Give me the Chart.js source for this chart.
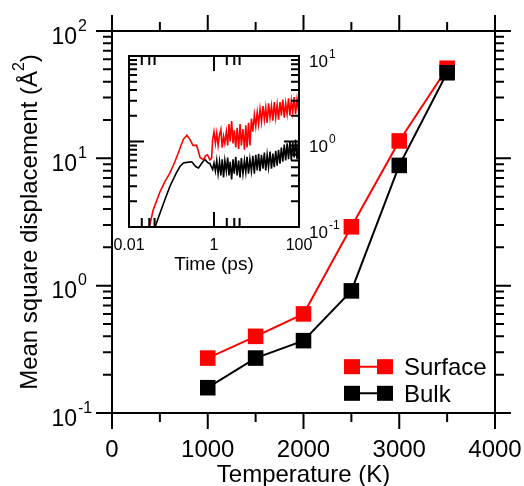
<!DOCTYPE html>
<html>
<head>
<meta charset="utf-8">
<title>Mean square displacement</title>
<script src="https://cdn.jsdelivr.net/npm/chart.js@4.4.1/dist/chart.umd.min.js"></script>
<style>
  body { margin: 0; background: #fff; }
  .wrap { position: relative; width: 524px; height: 486px; }
  .wrap canvas { position: absolute; left: 0; top: 0; }
  #insetChart { pointer-events: none; }
</style>
</head>
<body>
<div class="wrap">
  <canvas id="mainChart" width="524" height="486"></canvas>
  <canvas id="insetChart" width="524" height="486"></canvas>
</div>
<script>
// main panel
const temperature = [1000, 1500, 2000, 2500, 3000, 3500];
const surfaceMsd = [0.27, 0.40, 0.60, 2.9, 13.7, 51];
const bulkMsd = [0.158, 0.27, 0.37, 0.91, 8.8, 47];
const tempTicks = [0, 1000, 2000, 3000, 4000];
const msdExponents = [-1, 0, 1, 2];

// inset: msd vs time, start of the curves
const surfTimeStart = [0.028, 0.037, 0.054, 0.07, 0.092, 0.12, 0.145, 0.19, 0.23, 0.27, 0.32, 0.39, 0.43, 0.47, 0.56, 0.63, 0.7, 0.8, 0.88];
const surfMsdStart = [0.085, 0.158, 0.26, 0.34, 0.43, 0.58, 0.74, 1.06, 1.18, 1.06, 0.9, 0.9, 0.77, 0.65, 0.61, 0.68, 0.7, 0.61, 0.64];
const bulkTimeStart = [0.037, 0.041, 0.065, 0.092, 0.13, 0.158, 0.19, 0.23, 0.3, 0.37, 0.43, 0.52, 0.61, 0.7, 0.8];
const bulkMsdStart = [0.085, 0.1, 0.19, 0.30, 0.43, 0.51, 0.56, 0.57, 0.58, 0.51, 0.49, 0.56, 0.62, 0.57, 0.55];

// inset: the noisy part after ~1 ps
const noiseTime = [0.93, 1.0, 1.08, 1.16, 1.25, 1.35, 1.45, 1.56, 1.68, 1.8, 1.95, 2.1, 2.25, 2.4, 2.6, 2.8, 3.0,
  3.25, 3.5, 3.8, 4.1, 4.4, 4.8, 5.2, 5.6, 6.0, 6.5, 7.0, 7.6, 8.2, 8.9, 9.6, 10.4, 11.2, 12.1, 13.1, 14.2,
  15.3, 16.5, 17.8, 19.2, 20.8, 22.5, 24.3, 26.2, 28.3, 30.6, 33, 35.7, 38.5, 41.6, 45, 48.6, 52.5, 56.7,
  61.2, 66, 71.3, 77, 83.2, 89.8, 97, 100];
const surfNoise = [1.06, 1.3, 0.95, 1.25, 0.9, 1.2,
  1.38, 0.85, 1.15, 0.95, 1.3, 0.9,
  1.6, 1.0, 1.73, 0.95, 1.35,
  0.85, 1.45, 0.82, 1.6, 0.9, 1.4, 0.8, 1.55, 0.85, 1.65, 0.9,
  1.85, 1.3, 2.05, 1.5, 2.2,
  1.6, 2.4, 1.7, 2.6, 1.8, 2.5, 1.65, 2.8, 1.9, 2.6, 1.75, 2.9, 1.9, 2.7,
  1.8, 2.9, 2.0, 3.1, 1.9, 2.8, 2.1, 3.2, 2.0, 3.0, 2.2, 3.3, 2.1, 3.1, 2.3, 3.4];
const bulkNoise = [0.47, 0.56, 0.45, 0.6, 0.42, 0.58,
  0.4, 0.62, 0.38, 0.6, 0.45, 0.65,
  0.4, 0.58, 0.36, 0.62, 0.42,
  0.66, 0.4, 0.6, 0.38, 0.64, 0.42, 0.6, 0.44, 0.66, 0.42, 0.62,
  0.45, 0.68, 0.42, 0.7, 0.46,
  0.72, 0.45, 0.7, 0.48, 0.74, 0.46, 0.7, 0.5, 0.76, 0.48, 0.72, 0.5, 0.78, 0.52,
  0.8, 0.55, 0.85, 0.58, 0.92, 0.6, 0.95, 0.62, 1.0, 0.6, 0.98, 0.65, 1.05, 0.62, 1.0, 0.7];
const timeTicks = [0.01, 1, 100];
const timeLabels = ["0.01", "1", "100"];
const insetExponents = [-1, 0, 1];

const fontFamily = "'Liberation Sans', Arial, Helvetica, sans-serif";

function toPoints(xs, ys) {
  return xs.map((x, i) => ({ x: x, y: ys[i] }));
}

// "10" followed by a raised exponent, "10" right edge at x
function drawPower(ctx, exp, x, baseline, size, expSize, raise) {
  ctx.textBaseline = "alphabetic";
  ctx.font = size + "px " + fontFamily;
  ctx.textAlign = "right";
  ctx.fillText("10", x, baseline);
  ctx.font = expSize + "px " + fontFamily;
  ctx.textAlign = "left";
  ctx.fillText(exp, x + 1, baseline - raise);
}

const mainFrame = {
  id: "mainFrame",
  afterDraw(chart) {
    const { ctx, chartArea: a, scales: { x, y } } = chart;
    ctx.save();
    ctx.strokeStyle = "#000";
    ctx.fillStyle = "#000";
    ctx.lineWidth = 2;
    ctx.strokeRect(a.left, a.top, a.right - a.left, a.bottom - a.top);

    // ticks point outwards on all four sides
    ctx.beginPath();
    for (let v = 0; v <= 4000; v += 500) {
      const px = x.getPixelForValue(v);
      const len = v % 1000 === 0 ? 16 : 9;
      ctx.moveTo(px, a.bottom); ctx.lineTo(px, a.bottom + len);
      ctx.moveTo(px, a.top); ctx.lineTo(px, a.top - len);
    }
    msdExponents.forEach(e => {
      const base = Math.pow(10, e);
      const py = y.getPixelForValue(base);
      ctx.moveTo(a.left - 16, py); ctx.lineTo(a.left, py);
      ctx.moveTo(a.right, py); ctx.lineTo(a.right + 16, py);
      if (e < 2) {
        for (let m = 2; m < 10; m++) {
          const pm = y.getPixelForValue(m * base);
          ctx.moveTo(a.left - 9, pm); ctx.lineTo(a.left, pm);
          ctx.moveTo(a.right, pm); ctx.lineTo(a.right + 9, pm);
        }
      }
    });
    ctx.stroke();

    // tick labels
    ctx.font = "24px " + fontFamily;
    ctx.textAlign = "center";
    ctx.textBaseline = "alphabetic";
    tempTicks.forEach(v => ctx.fillText(String(v), x.getPixelForValue(v), a.bottom + 44));
    msdExponents.forEach(e => {
      const py = y.getPixelForValue(Math.pow(10, e));
      drawPower(ctx, String(e), a.left - 35, py + 12.5, 23, 16, 13);
    });

    // axis titles
    ctx.font = "24px " + fontFamily;
    ctx.textAlign = "center";
    ctx.fillText("Temperature (K)", (a.left + a.right) / 2, a.bottom + 68.5);

    ctx.save();
    ctx.translate(37, (a.top + a.bottom) / 2);
    ctx.rotate(-Math.PI / 2);
    const main = "Mean square displacement (\u00C5";
    ctx.font = "24px " + fontFamily;
    const w1 = ctx.measureText(main).width;
    const w3 = ctx.measureText(")").width;
    ctx.font = "16px " + fontFamily;
    const w2 = ctx.measureText("2").width;
    let sx = -(w1 + w2 + w3) / 2;
    ctx.textAlign = "left";
    ctx.font = "24px " + fontFamily;
    ctx.fillText(main, sx, 0);
    ctx.font = "16px " + fontFamily;
    ctx.fillText("2", sx + w1, -13);
    ctx.font = "24px " + fontFamily;
    ctx.fillText(")", sx + w1 + w2, 0);
    ctx.restore();

    // legend: line with a square at each end
    chart.data.datasets.forEach((ds, i) => {
      const ly = a.top + 335.7 + i * 26.6;
      const x0 = a.right - 151, x1 = a.right - 102;
      ctx.strokeStyle = ds.borderColor;
      ctx.fillStyle = ds.backgroundColor;
      ctx.lineWidth = 2;
      ctx.beginPath();
      ctx.moveTo(x0, ly); ctx.lineTo(x1, ly);
      ctx.stroke();
      ctx.fillRect(x0, ly - 7.5, 16, 15);
      ctx.fillRect(x1 - 16, ly - 7.5, 16, 15);
      ctx.fillStyle = "#000";
      ctx.font = "24px " + fontFamily;
      ctx.textAlign = "left";
      ctx.textBaseline = "alphabetic";
      ctx.fillText(ds.label, a.right - 91, ly + 8.6);
    });
    ctx.restore();
  }
};

const insetFrame = {
  id: "insetFrame",
  afterDraw(chart) {
    const { ctx, chartArea: a, scales: { x, y } } = chart;
    ctx.save();
    ctx.strokeStyle = "#000";
    ctx.fillStyle = "#000";
    ctx.lineWidth = 2;
    ctx.strokeRect(a.left, a.top, a.right - a.left, a.bottom - a.top);

    // ticks point inwards
    ctx.beginPath();
    timeTicks.forEach(t => {
      const px = x.getPixelForValue(t);
      ctx.moveTo(px, a.bottom); ctx.lineTo(px, a.bottom - 15);
      ctx.moveTo(px, a.top); ctx.lineTo(px, a.top + 15);
      [2, 3, 4].forEach(m => {
        const pm = x.getPixelForValue(m * t);
        if (pm < a.right - 1) {
          ctx.moveTo(pm, a.bottom); ctx.lineTo(pm, a.bottom - 9);
          ctx.moveTo(pm, a.top); ctx.lineTo(pm, a.top + 9);
        }
      });
    });
    insetExponents.forEach(e => {
      const base = Math.pow(10, e);
      const py = y.getPixelForValue(base);
      ctx.moveTo(a.left, py); ctx.lineTo(a.left + 15, py);
      ctx.moveTo(a.right, py); ctx.lineTo(a.right - 15, py);
      if (e < 1) {
        for (let m = 2; m < 10; m++) {
          const pm = y.getPixelForValue(m * base);
          ctx.moveTo(a.left, pm); ctx.lineTo(a.left + 8, pm);
          ctx.moveTo(a.right, pm); ctx.lineTo(a.right - 8, pm);
        }
      }
    });
    ctx.stroke();

    ctx.font = "16px " + fontFamily;
    ctx.textAlign = "center";
    ctx.textBaseline = "alphabetic";
    timeTicks.forEach((t, i) => ctx.fillText(timeLabels[i], x.getPixelForValue(t), a.bottom + 22.5));
    insetExponents.forEach(e => {
      const py = y.getPixelForValue(Math.pow(10, e));
      drawPower(ctx, String(e), a.right + 29, py + 10.5, 17, 12, 9);
    });
    ctx.font = "19px " + fontFamily;
    ctx.textAlign = "center";
    ctx.fillText("Time (ps)", (a.left + a.right) / 2, a.bottom + 43);
    ctx.restore();
  }
};

const mainChart = new Chart(document.getElementById("mainChart"), {
  type: "line",
  data: {
    datasets: [
      {
        label: "Surface",
        data: toPoints(temperature, surfaceMsd),
        borderColor: "#ff0000",
        backgroundColor: "#ff0000",
        borderWidth: 2,
        pointStyle: "rect",
        pointRadius: 11,
        pointBorderWidth: 0,
        order: 1,
      },
      {
        label: "Bulk",
        data: toPoints(temperature, bulkMsd),
        borderColor: "#000000",
        backgroundColor: "#000000",
        borderWidth: 2,
        pointStyle: "rect",
        pointRadius: 11,
        pointBorderWidth: 0,
        order: 0,
      },
    ],
  },
  options: {
    responsive: false,
    animation: false,
    layout: { padding: { left: 112, right: 29, top: 31, bottom: 73 } },
    plugins: {
      legend: { display: false },
      tooltip: { enabled: false },
    },
    scales: {
      x: { type: "linear", min: 0, max: 4000, display: false },
      y: { type: "logarithmic", min: 0.1, max: 100, display: false },
    },
  },
  plugins: [mainFrame],
});

const insetChart = new Chart(document.getElementById("insetChart"), {
  type: "line",
  data: {
    datasets: [
      {
        label: "Surface",
        data: toPoints(surfTimeStart.concat(noiseTime), surfMsdStart.concat(surfNoise)),
        borderColor: "#ff0000",
        borderWidth: 1.6,
        pointRadius: 0,
        tension: 0,
      },
      {
        label: "Bulk",
        data: toPoints(bulkTimeStart.concat(noiseTime), bulkMsdStart.concat(bulkNoise)),
        borderColor: "#000000",
        borderWidth: 1.6,
        pointRadius: 0,
        tension: 0,
      },
    ],
  },
  options: {
    responsive: false,
    animation: false,
    layout: { padding: { left: 129, right: 225, top: 56, bottom: 259 } },
    plugins: {
      legend: { display: false },
      tooltip: { enabled: false },
    },
    scales: {
      x: { type: "logarithmic", min: 0.01, max: 100, display: false },
      y: { type: "logarithmic", min: 0.1, max: 10, display: false },
    },
  },
  plugins: [insetFrame],
});
</script>
</body>
</html>
